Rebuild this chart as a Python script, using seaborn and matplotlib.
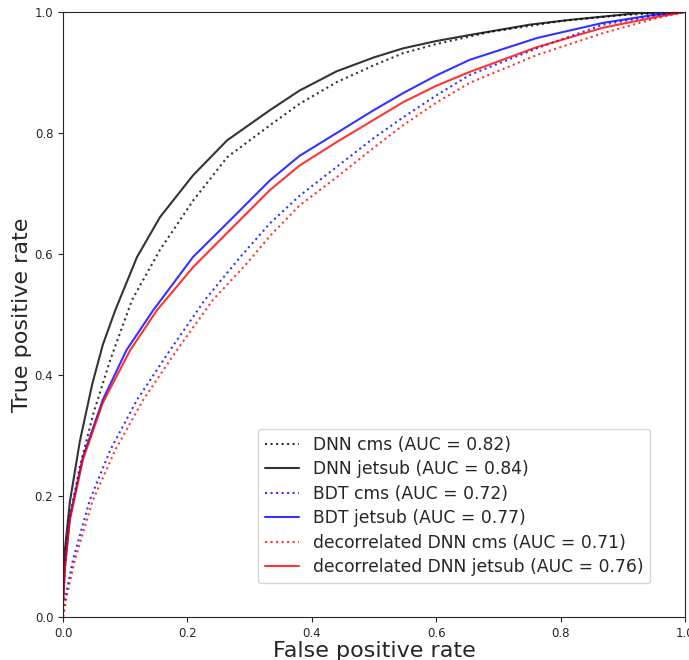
import matplotlib
matplotlib.use("Agg")
import matplotlib.pyplot as plt
import seaborn as sns
import numpy as np

sns.set_style("ticks")
plt.rcParams['font.family'] = ['DejaVu Sans']

# (FPR, TPR) points
dnn_cms_fpr = [0, 0.004, 0.011, 0.027, 0.049, 0.076, 0.111, 0.156, 0.209, 0.264, 0.333, 0.38, 0.44, 0.5, 0.547, 0.6, 0.686, 0.75, 0.8, 0.9, 1.0]
dnn_cms_tpr = [0.02, 0.10, 0.165, 0.248, 0.337, 0.425, 0.524, 0.607, 0.688, 0.760, 0.813, 0.848, 0.884, 0.912, 0.932, 0.947, 0.967, 0.977, 0.985, 0.995, 1.0]

dnn_jet_fpr = [0, 0.003, 0.011, 0.027, 0.047, 0.064, 0.084, 0.119, 0.156, 0.209, 0.264, 0.333, 0.38, 0.44, 0.5, 0.547, 0.6, 0.654, 0.75, 0.815, 0.923, 1.0]
dnn_jet_tpr = [0.03, 0.11, 0.19, 0.29, 0.385, 0.45, 0.507, 0.595, 0.661, 0.73, 0.788, 0.838, 0.870, 0.902, 0.925, 0.940, 0.952, 0.962, 0.979, 0.987, 0.998, 1.0]

bdt_cms_fpr = [0, 0.003, 0.016, 0.043, 0.076, 0.119, 0.172, 0.228, 0.285, 0.333, 0.38, 0.44, 0.5, 0.547, 0.6, 0.654, 0.762, 0.868, 0.95, 1.0]
bdt_cms_tpr = [0.0, 0.028, 0.094, 0.193, 0.276, 0.359, 0.441, 0.524, 0.595, 0.651, 0.696, 0.744, 0.792, 0.826, 0.862, 0.896, 0.940, 0.979, 0.994, 1.0]

bdt_jet_fpr = [0, 0.003, 0.011, 0.032, 0.064, 0.102, 0.145, 0.209, 0.264, 0.333, 0.38, 0.44, 0.5, 0.547, 0.6, 0.654, 0.762, 0.868, 0.949, 1.0]
bdt_jet_tpr = [0.03, 0.083, 0.165, 0.264, 0.359, 0.441, 0.507, 0.595, 0.651, 0.722, 0.762, 0.800, 0.838, 0.866, 0.895, 0.921, 0.957, 0.982, 0.995, 1.0]

dec_cms_fpr = [0, 0.005, 0.019, 0.048, 0.084, 0.129, 0.183, 0.241, 0.296, 0.333, 0.38, 0.44, 0.5, 0.547, 0.6, 0.654, 0.762, 0.868, 0.955, 1.0]
dec_cms_tpr = [0.0, 0.03, 0.094, 0.193, 0.276, 0.359, 0.441, 0.524, 0.585, 0.630, 0.680, 0.727, 0.776, 0.813, 0.850, 0.883, 0.929, 0.965, 0.990, 1.0]

dec_jet_fpr = [0, 0.003, 0.011, 0.032, 0.064, 0.108, 0.151, 0.209, 0.264, 0.333, 0.38, 0.44, 0.5, 0.547, 0.6, 0.654, 0.762, 0.868, 0.955, 1.0]
dec_jet_tpr = [0.02, 0.08, 0.16, 0.26, 0.354, 0.441, 0.507, 0.578, 0.635, 0.706, 0.746, 0.785, 0.822, 0.851, 0.878, 0.901, 0.942, 0.974, 0.992, 1.0]

labels = ["DNN cms (AUC = 0.82)", "DNN jetsub (AUC = 0.84)",
          "BDT cms (AUC = 0.72)", "BDT jetsub (AUC = 0.77)",
          "decorrelated DNN cms (AUC = 0.71)", "decorrelated DNN jetsub (AUC = 0.76)"]

series = [(dnn_cms_fpr, dnn_cms_tpr, "black", ":"),
          (dnn_jet_fpr, dnn_jet_tpr, "black", "-"),
          (bdt_cms_fpr, bdt_cms_tpr, "blue", ":"),
          (bdt_jet_fpr, bdt_jet_tpr, "blue", "-"),
          (dec_cms_fpr, dec_cms_tpr, "red", ":"),
          (dec_jet_fpr, dec_jet_tpr, "red", "-")]

fig = plt.figure(figsize=(6.89, 6.60), dpi=100)
ax = fig.add_axes([63/689, 43/660, 622/689, 605/660])

for (fx, ty, c, ls), lab in zip(series, labels):
    sns.lineplot(x=fx, y=ty, color=c, linestyle=ls, linewidth=1.5, alpha=0.8,
                 label=lab, ax=ax, sort=False, estimator=None)

ax.set_xlim(0, 1)
ax.set_ylim(0, 1)
ax.set_xlabel("False positive rate", fontsize=16, labelpad=1)
ax.set_ylabel("True positive rate", fontsize=16, labelpad=2)
ax.tick_params(labelsize=8.5, length=3.5)
for s in ax.spines.values():
    s.set_visible(True)

leg = ax.legend(loc="lower right", bbox_to_anchor=(0.944, 0.056), borderaxespad=0,
                fontsize=12.3, labelspacing=0.38, frameon=True)

fig.savefig("out.png", dpi=100)
